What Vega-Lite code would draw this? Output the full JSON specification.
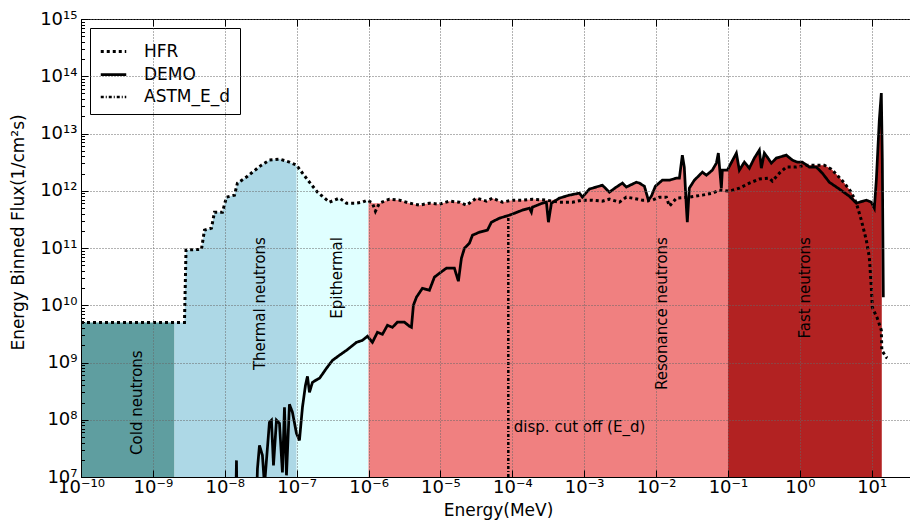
{
  "$schema": "https://vega.github.io/schema/vega-lite/v6.json",
  "width": 834,
  "height": 458,
  "autosize": "none",
  "padding": {"left": 81, "top": 19, "right": 0, "bottom": 46},
  "background": "white",
  "config": {
    "font": "DejaVu Sans",
    "view": {"stroke": "black", "strokeWidth": 1},
    "text": {"font": "DejaVu Sans"}
  },
  "datasets": {
    "fill": [
      {"region": "Cold", "e": 1e-10, "f": 5e9},
      {"region": "Cold", "e": 2e-9, "f": 5e9},
      {"region": "Thermal", "e": 2e-9, "f": 5e9},
      {"region": "Thermal", "e": 2.75e-9, "f": 5e9},
      {"region": "Thermal", "e": 2.89e-9, "f": 9.2e10},
      {"region": "Thermal", "e": 4.74e-9, "f": 9.5e10},
      {"region": "Thermal", "e": 5.22e-9, "f": 2.05e11},
      {"region": "Thermal", "e": 6.53e-9, "f": 2.22e11},
      {"region": "Thermal", "e": 7.19e-9, "f": 4.23e11},
      {"region": "Thermal", "e": 9.29e-9, "f": 4.23e11},
      {"region": "Thermal", "e": 1.056e-8, "f": 7.73e11},
      {"region": "Thermal", "e": 1.365e-8, "f": 8.38e11},
      {"region": "Thermal", "e": 1.5e-8, "f": 1.36e12},
      {"region": "Thermal", "e": 2e-8, "f": 1.73e12},
      {"region": "Thermal", "e": 2.43e-8, "f": 2.11e12},
      {"region": "Thermal", "e": 3.24e-8, "f": 2.8e12},
      {"region": "Thermal", "e": 4.18e-8, "f": 3.43e12},
      {"region": "Thermal", "e": 5.77e-8, "f": 3.57e12},
      {"region": "Thermal", "e": 7.94e-8, "f": 3.16e12},
      {"region": "Thermal", "e": 1e-7, "f": 2.78e12},
      {"region": "Epithermal", "e": 1e-7, "f": 2.78e12},
      {"region": "Epithermal", "e": 1.204e-7, "f": 2.03e12},
      {"region": "Epithermal", "e": 1.507e-7, "f": 1.41e12},
      {"region": "Epithermal", "e": 1.947e-7, "f": 9.45e11},
      {"region": "Epithermal", "e": 2.86e-7, "f": 6.32e11},
      {"region": "Epithermal", "e": 3.94e-7, "f": 7.43e11},
      {"region": "Epithermal", "e": 4.93e-7, "f": 6.07e11},
      {"region": "Epithermal", "e": 6.79e-7, "f": 6.07e11},
      {"region": "Epithermal", "e": 8.23e-7, "f": 6.32e11},
      {"region": "Epithermal", "e": 1e-6, "f": 6.85e11},
      {"region": "Resonance", "e": 1e-6, "f": 6.85e11},
      {"region": "Resonance", "e": 1.133e-6, "f": 6.07e11},
      {"region": "Resonance", "e": 1.418e-6, "f": 6.07e11},
      {"region": "Resonance", "e": 1.953e-6, "f": 7.13e11},
      {"region": "Resonance", "e": 2.69e-6, "f": 6.85e11},
      {"region": "Resonance", "e": 3.71e-6, "f": 6.07e11},
      {"region": "Resonance", "e": 5.1e-6, "f": 5.6e11},
      {"region": "Resonance", "e": 7.03e-6, "f": 6.07e11},
      {"region": "Resonance", "e": 9.68e-6, "f": 5.83e11},
      {"region": "Resonance", "e": 1.334e-5, "f": 6.58e11},
      {"region": "Resonance", "e": 1.838e-5, "f": 6.32e11},
      {"region": "Resonance", "e": 2.3e-5, "f": 5.6e11},
      {"region": "Resonance", "e": 3.17e-5, "f": 7.43e11},
      {"region": "Resonance", "e": 4.36e-5, "f": 6.58e11},
      {"region": "Resonance", "e": 5.29e-5, "f": 7.43e11},
      {"region": "Resonance", "e": 7.28e-5, "f": 6.32e11},
      {"region": "Resonance", "e": 1.003e-4, "f": 6.85e11},
      {"region": "Resonance", "e": 1.382e-4, "f": 6.85e11},
      {"region": "Resonance", "e": 1.904e-4, "f": 7.13e11},
      {"region": "Resonance", "e": 2.98e-4, "f": 6.85e11},
      {"region": "Resonance", "e": 3.5e-4, "f": 6.85e11},
      {"region": "Resonance", "e": 4.52e-4, "f": 7.43e11},
      {"region": "Resonance", "e": 6.22e-4, "f": 8.38e11},
      {"region": "Resonance", "e": 8.58e-4, "f": 9.08e11},
      {"region": "Resonance", "e": 9.44e-4, "f": 7.73e11},
      {"region": "Resonance", "e": 1.181e-3, "f": 1.07e12},
      {"region": "Resonance", "e": 1.79e-3, "f": 1.25e12},
      {"region": "Resonance", "e": 2.24e-3, "f": 9.45e11},
      {"region": "Resonance", "e": 2.8e-3, "f": 1.16e12},
      {"region": "Resonance", "e": 3.4e-3, "f": 1.36e12},
      {"region": "Resonance", "e": 3.86e-3, "f": 1.16e12},
      {"region": "Resonance", "e": 5.32e-3, "f": 1.41e12},
      {"region": "Resonance", "e": 5.86e-3, "f": 1.36e12},
      {"region": "Resonance", "e": 6.88e-3, "f": 1.2e12},
      {"region": "Resonance", "e": 7.81e-3, "f": 6.85e11},
      {"region": "Resonance", "e": 8.61e-3, "f": 8.05e11},
      {"region": "Resonance", "e": 9.78e-3, "f": 1.2e12},
      {"region": "Resonance", "e": 1.224e-2, "f": 1.53e12},
      {"region": "Resonance", "e": 1.531e-2, "f": 1.53e12},
      {"region": "Resonance", "e": 1.915e-2, "f": 1.66e12},
      {"region": "Resonance", "e": 2.11e-2, "f": 1.66e12},
      {"region": "Resonance", "e": 2.32e-2, "f": 4.19e12},
      {"region": "Resonance", "e": 2.47e-2, "f": 2.59e12},
      {"region": "Resonance", "e": 2.64e-2, "f": 7.73e11},
      {"region": "Resonance", "e": 2.72e-2, "f": 7.73e11},
      {"region": "Resonance", "e": 2.9e-2, "f": 1.11e12},
      {"region": "Resonance", "e": 3.41e-2, "f": 1.53e12},
      {"region": "Resonance", "e": 4.41e-2, "f": 2.11e12},
      {"region": "Resonance", "e": 5.01e-2, "f": 1.87e12},
      {"region": "Resonance", "e": 6.07e-2, "f": 2.29e12},
      {"region": "Resonance", "e": 6.9e-2, "f": 3.04e12},
      {"region": "Resonance", "e": 7.35e-2, "f": 4.54e12},
      {"region": "Resonance", "e": 8.09e-2, "f": 1.1e12},
      {"region": "Resonance", "e": 8.36e-2, "f": 2.29e12},
      {"region": "Resonance", "e": 9.81e-2, "f": 2.29e12},
      {"region": "Resonance", "e": 0.1, "f": 2.4e12},
      {"region": "Fast", "e": 0.1, "f": 2.4e12},
      {"region": "Fast", "e": 0.1309, "f": 4.54e12},
      {"region": "Fast", "e": 0.1441, "f": 2.29e12},
      {"region": "Fast", "e": 0.169, "f": 3.16e12},
      {"region": "Fast", "e": 0.1984, "f": 2.48e12},
      {"region": "Fast", "e": 0.2329, "f": 3.72e12},
      {"region": "Fast", "e": 0.2734, "f": 5.13e12},
      {"region": "Fast", "e": 0.2914, "f": 2.48e12},
      {"region": "Fast", "e": 0.3208, "f": 4.54e12},
      {"region": "Fast", "e": 0.3532, "f": 3.86e12},
      {"region": "Fast", "e": 0.4015, "f": 3.04e12},
      {"region": "Fast", "e": 0.4712, "f": 3.72e12},
      {"region": "Fast", "e": 0.649, "f": 4.19e12},
      {"region": "Fast", "e": 0.786, "f": 3.43e12},
      {"region": "Fast", "e": 0.923, "f": 3.16e12},
      {"region": "Fast", "e": 1.083, "f": 3.16e12},
      {"region": "Fast", "e": 1.231, "f": 2.8e12},
      {"region": "Fast", "e": 1.696, "f": 2.8e12},
      {"region": "Fast", "e": 2.19, "f": 2.8e12},
      {"region": "Fast", "e": 2.74, "f": 2.39e12},
      {"region": "Fast", "e": 3.32, "f": 1.87e12},
      {"region": "Fast", "e": 4.16, "f": 1.36e12},
      {"region": "Fast", "e": 5.2, "f": 9.45e11},
      {"region": "Fast", "e": 6.11, "f": 6.07e11},
      {"region": "Fast", "e": 8.41, "f": 6.85e11},
      {"region": "Fast", "e": 9.87, "f": 6.32e11},
      {"region": "Fast", "e": 10.87, "f": 4.97e11},
      {"region": "Fast", "e": 11.59, "f": 1.53e12},
      {"region": "Fast", "e": 12.75, "f": 1.71e13},
      {"region": "Fast", "e": 13.6, "f": 5.08e13},
      {"region": "Fast", "e": 13.8, "f": 1.35e13}
    ],
    "lines": [
      {"series": "HFR", "e": 1e-10, "f": 5e9},
      {"series": "HFR", "e": 2.75e-9, "f": 5e9},
      {"series": "HFR", "e": 2.89e-9, "f": 9.2e10},
      {"series": "HFR", "e": 4.74e-9, "f": 9.5e10},
      {"series": "HFR", "e": 5.22e-9, "f": 2.05e11},
      {"series": "HFR", "e": 6.53e-9, "f": 2.22e11},
      {"series": "HFR", "e": 7.19e-9, "f": 4.23e11},
      {"series": "HFR", "e": 9.29e-9, "f": 4.23e11},
      {"series": "HFR", "e": 1.056e-8, "f": 7.73e11},
      {"series": "HFR", "e": 1.365e-8, "f": 8.38e11},
      {"series": "HFR", "e": 1.5e-8, "f": 1.36e12},
      {"series": "HFR", "e": 2e-8, "f": 1.73e12},
      {"series": "HFR", "e": 2.43e-8, "f": 2.11e12},
      {"series": "HFR", "e": 3.24e-8, "f": 2.8e12},
      {"series": "HFR", "e": 4.18e-8, "f": 3.43e12},
      {"series": "HFR", "e": 5.77e-8, "f": 3.57e12},
      {"series": "HFR", "e": 7.94e-8, "f": 3.16e12},
      {"series": "HFR", "e": 9.94e-8, "f": 2.8e12},
      {"series": "HFR", "e": 1.204e-7, "f": 2.03e12},
      {"series": "HFR", "e": 1.507e-7, "f": 1.41e12},
      {"series": "HFR", "e": 1.947e-7, "f": 9.45e11},
      {"series": "HFR", "e": 2.86e-7, "f": 6.32e11},
      {"series": "HFR", "e": 3.94e-7, "f": 7.43e11},
      {"series": "HFR", "e": 4.93e-7, "f": 6.07e11},
      {"series": "HFR", "e": 6.79e-7, "f": 6.07e11},
      {"series": "HFR", "e": 8.23e-7, "f": 6.32e11},
      {"series": "HFR", "e": 9.65e-7, "f": 6.85e11},
      {"series": "HFR", "e": 1.133e-6, "f": 6.07e11},
      {"series": "HFR", "e": 1.247e-6, "f": 4.4e11},
      {"series": "HFR", "e": 1.418e-6, "f": 6.07e11},
      {"series": "HFR", "e": 1.953e-6, "f": 7.13e11},
      {"series": "HFR", "e": 2.69e-6, "f": 6.85e11},
      {"series": "HFR", "e": 3.71e-6, "f": 6.07e11},
      {"series": "HFR", "e": 5.1e-6, "f": 5.6e11},
      {"series": "HFR", "e": 7.03e-6, "f": 6.07e11},
      {"series": "HFR", "e": 9.68e-6, "f": 5.83e11},
      {"series": "HFR", "e": 1.334e-5, "f": 6.58e11},
      {"series": "HFR", "e": 1.838e-5, "f": 6.32e11},
      {"series": "HFR", "e": 2.3e-5, "f": 5.6e11},
      {"series": "HFR", "e": 3.17e-5, "f": 7.43e11},
      {"series": "HFR", "e": 4.36e-5, "f": 6.58e11},
      {"series": "HFR", "e": 5.29e-5, "f": 7.43e11},
      {"series": "HFR", "e": 7.28e-5, "f": 6.32e11},
      {"series": "HFR", "e": 1.003e-4, "f": 6.85e11},
      {"series": "HFR", "e": 1.382e-4, "f": 6.85e11},
      {"series": "HFR", "e": 1.904e-4, "f": 7.13e11},
      {"series": "HFR", "e": 2.98e-4, "f": 6.85e11},
      {"series": "HFR", "e": 4.52e-4, "f": 6.32e11},
      {"series": "HFR", "e": 6.85e-4, "f": 6.32e11},
      {"series": "HFR", "e": 9.44e-4, "f": 6.85e11},
      {"series": "HFR", "e": 1.3e-3, "f": 6.85e11},
      {"series": "HFR", "e": 1.79e-3, "f": 6.58e11},
      {"series": "HFR", "e": 2.24e-3, "f": 7.13e11},
      {"series": "HFR", "e": 3.09e-3, "f": 6.32e11},
      {"series": "HFR", "e": 3.86e-3, "f": 7.73e11},
      {"series": "HFR", "e": 4.68e-3, "f": 7.43e11},
      {"series": "HFR", "e": 6.45e-3, "f": 6.85e11},
      {"series": "HFR", "e": 8.88e-3, "f": 6.85e11},
      {"series": "HFR", "e": 1.111e-2, "f": 7.73e11},
      {"series": "HFR", "e": 1.391e-2, "f": 7.73e11},
      {"series": "HFR", "e": 1.531e-2, "f": 5.38e11},
      {"series": "HFR", "e": 1.915e-2, "f": 7.43e11},
      {"series": "HFR", "e": 2.9e-2, "f": 7.73e11},
      {"series": "HFR", "e": 4.41e-2, "f": 8.38e11},
      {"series": "HFR", "e": 6.07e-2, "f": 9.08e11},
      {"series": "HFR", "e": 7.59e-2, "f": 1.02e12},
      {"series": "HFR", "e": 0.1046, "f": 9.84e11},
      {"series": "HFR", "e": 0.1441, "f": 1.11e12},
      {"series": "HFR", "e": 0.1984, "f": 1.36e12},
      {"series": "HFR", "e": 0.2734, "f": 1.6e12},
      {"series": "HFR", "e": 0.3765, "f": 1.66e12},
      {"series": "HFR", "e": 0.4145, "f": 1.47e12},
      {"series": "HFR", "e": 0.5187, "f": 2.03e12},
      {"series": "HFR", "e": 0.649, "f": 2.59e12},
      {"series": "HFR", "e": 0.894, "f": 2.59e12},
      {"series": "HFR", "e": 1.231, "f": 2.8e12},
      {"series": "HFR", "e": 1.696, "f": 2.8e12},
      {"series": "HFR", "e": 2.19, "f": 2.8e12},
      {"series": "HFR", "e": 2.74, "f": 2.39e12},
      {"series": "HFR", "e": 3.32, "f": 1.87e12},
      {"series": "HFR", "e": 4.16, "f": 1.36e12},
      {"series": "HFR", "e": 5.2, "f": 9.45e11},
      {"series": "HFR", "e": 6.11, "f": 6.07e11},
      {"series": "HFR", "e": 7.17, "f": 3.06e11},
      {"series": "HFR", "e": 8.41, "f": 1.37e11},
      {"series": "HFR", "e": 9.26, "f": 6.9e10},
      {"series": "HFR", "e": 9.87, "f": 2.07e10},
      {"series": "HFR", "e": 10.19, "f": 9.23e9},
      {"series": "HFR", "e": 11.96, "f": 5.93e9},
      {"series": "HFR", "e": 13.6, "f": 3.66e9},
      {"series": "HFR", "e": 13.82, "f": 1.63e9},
      {"series": "HFR", "e": 15.96, "f": 1.23e9},
      {"series": "HFR", "e": 16.5, "f": 1.2e9},
      {"series": "DEMO", "e": 1.4e-8, "f": 1e6},
      {"series": "DEMO", "e": 1.455e-8, "f": 1.95e7},
      {"series": "DEMO", "e": 1.5e-8, "f": 1e6},
      {"series": "DEMO", "e": 2.67e-8, "f": 1e6},
      {"series": "DEMO", "e": 2.85e-8, "f": 1.41e7},
      {"series": "DEMO", "e": 3.04e-8, "f": 3.57e7},
      {"series": "DEMO", "e": 3.34e-8, "f": 2.39e7},
      {"series": "DEMO", "e": 3.57e-8, "f": 7.1e6},
      {"series": "DEMO", "e": 4.18e-8, "f": 9.0e7},
      {"series": "DEMO", "e": 4.46e-8, "f": 9.8e7},
      {"series": "DEMO", "e": 4.76e-8, "f": 1.6e7},
      {"series": "DEMO", "e": 5.24e-8, "f": 9.8e7},
      {"series": "DEMO", "e": 5.77e-8, "f": 8.65e7},
      {"series": "DEMO", "e": 6.34e-8, "f": 1.2e7},
      {"series": "DEMO", "e": 6.77e-8, "f": 1.65e8},
      {"series": "DEMO", "e": 7.22e-8, "f": 1.07e7},
      {"series": "DEMO", "e": 7.94e-8, "f": 1.86e8},
      {"series": "DEMO", "e": 8.74e-8, "f": 1.35e8},
      {"series": "DEMO", "e": 9.94e-8, "f": 5.78e7},
      {"series": "DEMO", "e": 1.094e-7, "f": 4.37e7},
      {"series": "DEMO", "e": 1.204e-7, "f": 1.65e8},
      {"series": "DEMO", "e": 1.326e-7, "f": 3.99e8},
      {"series": "DEMO", "e": 1.414e-7, "f": 5.74e8},
      {"series": "DEMO", "e": 1.507e-7, "f": 3.01e8},
      {"series": "DEMO", "e": 1.659e-7, "f": 4.51e8},
      {"series": "DEMO", "e": 1.947e-7, "f": 5.08e8},
      {"series": "DEMO", "e": 2.08e-7, "f": 5.3e8},
      {"series": "DEMO", "e": 2.6e-7, "f": 7.92e8},
      {"series": "DEMO", "e": 3.15e-7, "f": 1.09e9},
      {"series": "DEMO", "e": 3.94e-7, "f": 1.34e9},
      {"series": "DEMO", "e": 4.93e-7, "f": 1.63e9},
      {"series": "DEMO", "e": 6.79e-7, "f": 2.25e9},
      {"series": "DEMO", "e": 8.23e-7, "f": 2.44e9},
      {"series": "DEMO", "e": 9.65e-7, "f": 2.87e9},
      {"series": "DEMO", "e": 1.133e-6, "f": 2.25e9},
      {"series": "DEMO", "e": 1.33e-6, "f": 3.37e9},
      {"series": "DEMO", "e": 1.561e-6, "f": 3.11e9},
      {"series": "DEMO", "e": 1.832e-6, "f": 4.47e9},
      {"series": "DEMO", "e": 2.15e-6, "f": 4.12e9},
      {"series": "DEMO", "e": 2.52e-6, "f": 5.05e9},
      {"series": "DEMO", "e": 3.16e-6, "f": 5.05e9},
      {"series": "DEMO", "e": 3.71e-6, "f": 4.3e9},
      {"series": "DEMO", "e": 3.95e-6, "f": 4.12e9},
      {"series": "DEMO", "e": 4.21e-6, "f": 1.0e10},
      {"series": "DEMO", "e": 4.64e-6, "f": 1.38e10},
      {"series": "DEMO", "e": 5.62e-6, "f": 1.98e10},
      {"series": "DEMO", "e": 7.03e-6, "f": 1.83e10},
      {"series": "DEMO", "e": 8.25e-6, "f": 3.09e10},
      {"series": "DEMO", "e": 9.68e-6, "f": 3.62e10},
      {"series": "DEMO", "e": 1.212e-5, "f": 4.44e10},
      {"series": "DEMO", "e": 1.565e-5, "f": 4.44e10},
      {"series": "DEMO", "e": 1.779e-5, "f": 2.63e10},
      {"series": "DEMO", "e": 1.959e-5, "f": 6.63e10},
      {"series": "DEMO", "e": 2.16e-5, "f": 9.93e10},
      {"series": "DEMO", "e": 2.53e-5, "f": 1.21e11},
      {"series": "DEMO", "e": 2.79e-5, "f": 1.67e11},
      {"series": "DEMO", "e": 3.49e-5, "f": 1.89e11},
      {"series": "DEMO", "e": 4.51e-5, "f": 2.05e11},
      {"series": "DEMO", "e": 5.12e-5, "f": 2.82e11},
      {"series": "DEMO", "e": 6.62e-5, "f": 3.32e11},
      {"series": "DEMO", "e": 9.11e-5, "f": 3.74e11},
      {"series": "DEMO", "e": 1.382e-4, "f": 4.58e11},
      {"series": "DEMO", "e": 1.729e-4, "f": 4.97e11},
      {"series": "DEMO", "e": 1.843e-4, "f": 4.23e11},
      {"series": "DEMO", "e": 1.904e-4, "f": 5.17e11},
      {"series": "DEMO", "e": 2.62e-4, "f": 6.07e11},
      {"series": "DEMO", "e": 2.98e-4, "f": 6.32e11},
      {"series": "DEMO", "e": 3.18e-4, "f": 2.82e11},
      {"series": "DEMO", "e": 3.5e-4, "f": 6.07e11},
      {"series": "DEMO", "e": 4.52e-4, "f": 7.43e11},
      {"series": "DEMO", "e": 6.22e-4, "f": 8.38e11},
      {"series": "DEMO", "e": 8.58e-4, "f": 9.08e11},
      {"series": "DEMO", "e": 9.44e-4, "f": 7.73e11},
      {"series": "DEMO", "e": 1.181e-3, "f": 1.07e12},
      {"series": "DEMO", "e": 1.79e-3, "f": 1.25e12},
      {"series": "DEMO", "e": 2.24e-3, "f": 9.45e11},
      {"series": "DEMO", "e": 2.8e-3, "f": 1.16e12},
      {"series": "DEMO", "e": 3.4e-3, "f": 1.36e12},
      {"series": "DEMO", "e": 3.86e-3, "f": 1.16e12},
      {"series": "DEMO", "e": 5.32e-3, "f": 1.41e12},
      {"series": "DEMO", "e": 5.86e-3, "f": 1.36e12},
      {"series": "DEMO", "e": 6.88e-3, "f": 1.2e12},
      {"series": "DEMO", "e": 7.81e-3, "f": 6.85e11},
      {"series": "DEMO", "e": 8.61e-3, "f": 8.05e11},
      {"series": "DEMO", "e": 9.78e-3, "f": 1.2e12},
      {"series": "DEMO", "e": 1.224e-2, "f": 1.53e12},
      {"series": "DEMO", "e": 1.531e-2, "f": 1.53e12},
      {"series": "DEMO", "e": 1.915e-2, "f": 1.66e12},
      {"series": "DEMO", "e": 2.11e-2, "f": 1.66e12},
      {"series": "DEMO", "e": 2.32e-2, "f": 4.19e12},
      {"series": "DEMO", "e": 2.47e-2, "f": 2.59e12},
      {"series": "DEMO", "e": 2.64e-2, "f": 5.17e11},
      {"series": "DEMO", "e": 2.72e-2, "f": 2.82e11},
      {"series": "DEMO", "e": 2.9e-2, "f": 1.11e12},
      {"series": "DEMO", "e": 3.41e-2, "f": 1.53e12},
      {"series": "DEMO", "e": 4.41e-2, "f": 2.11e12},
      {"series": "DEMO", "e": 5.01e-2, "f": 1.87e12},
      {"series": "DEMO", "e": 6.07e-2, "f": 2.29e12},
      {"series": "DEMO", "e": 6.9e-2, "f": 3.04e12},
      {"series": "DEMO", "e": 7.35e-2, "f": 4.54e12},
      {"series": "DEMO", "e": 8.09e-2, "f": 1.1e12},
      {"series": "DEMO", "e": 8.36e-2, "f": 2.29e12},
      {"series": "DEMO", "e": 9.81e-2, "f": 2.29e12},
      {"series": "DEMO", "e": 0.1309, "f": 4.54e12},
      {"series": "DEMO", "e": 0.1441, "f": 2.29e12},
      {"series": "DEMO", "e": 0.169, "f": 3.16e12},
      {"series": "DEMO", "e": 0.1984, "f": 2.48e12},
      {"series": "DEMO", "e": 0.2329, "f": 3.72e12},
      {"series": "DEMO", "e": 0.2734, "f": 5.13e12},
      {"series": "DEMO", "e": 0.2914, "f": 2.48e12},
      {"series": "DEMO", "e": 0.3208, "f": 4.54e12},
      {"series": "DEMO", "e": 0.3532, "f": 3.86e12},
      {"series": "DEMO", "e": 0.4015, "f": 3.04e12},
      {"series": "DEMO", "e": 0.4712, "f": 3.72e12},
      {"series": "DEMO", "e": 0.649, "f": 4.19e12},
      {"series": "DEMO", "e": 0.786, "f": 3.43e12},
      {"series": "DEMO", "e": 0.923, "f": 3.16e12},
      {"series": "DEMO", "e": 1.083, "f": 3.16e12},
      {"series": "DEMO", "e": 1.356, "f": 2.59e12},
      {"series": "DEMO", "e": 1.696, "f": 2.59e12},
      {"series": "DEMO", "e": 2.056, "f": 2.03e12},
      {"series": "DEMO", "e": 2.572, "f": 1.41e12},
      {"series": "DEMO", "e": 3.543, "f": 1.07e12},
      {"series": "DEMO", "e": 4.88, "f": 8.05e11},
      {"series": "DEMO", "e": 6.11, "f": 6.07e11},
      {"series": "DEMO", "e": 8.41, "f": 6.85e11},
      {"series": "DEMO", "e": 9.87, "f": 6.32e11},
      {"series": "DEMO", "e": 10.87, "f": 4.97e11},
      {"series": "DEMO", "e": 11.59, "f": 1.53e12},
      {"series": "DEMO", "e": 12.75, "f": 1.71e13},
      {"series": "DEMO", "e": 13.6, "f": 5.08e13},
      {"series": "DEMO", "e": 14.04, "f": 3.43e12},
      {"series": "DEMO", "e": 14.5, "f": 1.38e10},
      {"series": "ASTM_E_d", "e": 8.8e-5, "f": 1e7},
      {"series": "ASTM_E_d", "e": 8.8e-5, "f": 4.1e11}
    ],
    "vlabels": [
      {"t": "Cold neutrons", "e": 6.1e-10, "f": 1.63e9},
      {"t": "Thermal neutrons", "e": 3.14e-8, "f": 1.55e11},
      {"t": "Epithermal", "e": 3.63e-7, "f": 1.55e11},
      {"t": "Resonance neutrons", "e": 1.224e-2, "f": 1.55e11},
      {"t": "Fast neutrons", "e": 1.19, "f": 1.55e11}
    ],
    "hlabels": [
      {"t": "disp. cut off (E_d)", "e": 1.05e-4, "f": 7.4e7}
    ]
  },
  "layer": [
    {
      "data": {"name": "fill"},
      "mark": {"type": "area", "clip": true, "strokeWidth": 0},
      "encoding": {
        "x": {
          "field": "e", "type": "quantitative",
          "scale": {"type": "log", "domain": [1e-10, 40], "nice": false},
          "axis": {
            "orient": "bottom",
            "values": [1e-10, 1e-9, 1e-8, 1e-7, 1e-6, 1e-5, 1e-4, 1e-3, 1e-2, 1e-1, 1, 10],
            "labelExpr": "'10' + replace(replace(replace(replace(replace(replace(replace(replace(replace(replace(replace('' + round(log(datum.value)/LN10), regexp('-','g'), '⁻'), regexp('0','g'), '⁰'), regexp('1','g'), '¹'), regexp('2','g'), '²'), regexp('3','g'), '³'), regexp('4','g'), '⁴'), regexp('5','g'), '⁵'), regexp('6','g'), '⁶'), regexp('7','g'), '⁷'), regexp('8','g'), '⁸'), regexp('9','g'), '⁹')",
            "labelFontSize": 18,
            "labelColor": "black",
            "labelFlush": false,
            "labelOverlap": false,
            "labelPadding": 8,
            "tickSize": -7,
            "tickColor": "black",
            "domainColor": "black",
            "grid": true,
            "gridColor": "#666666",
            "gridDash": [1, 2],
            "gridWidth": 1,
            "zindex": 1,
            "title": "Energy(MeV)",
            "titleFontSize": 17,
            "titleFontWeight": "normal",
            "titleColor": "black",
            "titleBaseline": "middle",
            "titleY": 33
          }
        },
        "y": {
          "field": "f", "type": "quantitative",
          "scale": {"type": "log", "domain": [1e7, 1e15], "nice": false},
          "stack": null,
          "axis": {
            "orient": "left",
            "values": [1e7, 2e7, 3e7, 4e7, 5e7, 6e7, 7e7, 8e7, 9e7, 1e8, 2e8, 3e8, 4e8, 5e8, 6e8, 7e8, 8e8, 9e8, 1e9, 2e9, 3e9, 4e9, 5e9, 6e9, 7e9, 8e9, 9e9, 1e10, 2e10, 3e10, 4e10, 5e10, 6e10, 7e10, 8e10, 9e10, 1e11, 2e11, 3e11, 4e11, 5e11, 6e11, 7e11, 8e11, 9e11, 1e12, 2e12, 3e12, 4e12, 5e12, 6e12, 7e12, 8e12, 9e12, 1e13, 2e13, 3e13, 4e13, 5e13, 6e13, 7e13, 8e13, 9e13, 1e14, 2e14, 3e14, 4e14, 5e14, 6e14, 7e14, 8e14, 9e14, 1e15],
            "labelExpr": "abs(log(datum.value)/LN10 - round(log(datum.value)/LN10)) < 0.001 ? '10' + replace(replace(replace(replace(replace(replace(replace(replace(replace(replace(replace('' + round(log(datum.value)/LN10), regexp('-','g'), '⁻'), regexp('0','g'), '⁰'), regexp('1','g'), '¹'), regexp('2','g'), '²'), regexp('3','g'), '³'), regexp('4','g'), '⁴'), regexp('5','g'), '⁵'), regexp('6','g'), '⁶'), regexp('7','g'), '⁷'), regexp('8','g'), '⁸'), regexp('9','g'), '⁹') : ''",
            "labelFontSize": 18,
            "labelColor": "black",
            "labelOverlap": false,
            "labelFlush": false,
            "labelPadding": 11,
            "tickSize": {"condition": {"test": "abs(log(datum.value)/LN10 - round(log(datum.value)/LN10)) < 0.001", "value": -7}, "value": -3.5},
            "tickColor": "black",
            "domainColor": "black",
            "grid": true,
            "gridColor": "#666666",
            "gridDash": [1, 2],
            "gridWidth": 1,
            "gridOpacity": {"condition": {"test": "abs(log(datum.value)/LN10 - round(log(datum.value)/LN10)) < 0.001", "value": 1}, "value": 0},
            "zindex": 1,
            "title": "Energy Binned Flux(1/cm²s)",
            "titleFontSize": 17,
            "titleFontWeight": "normal",
            "titleColor": "black",
            "titleX": -63,
            "titleY": 213,
            "titleBaseline": "middle"
          }
        },
        "y2": {"datum": 1e7},
        "color": {
          "field": "region", "type": "nominal",
          "scale": {"domain": ["Cold", "Thermal", "Epithermal", "Resonance", "Fast"], "range": ["#5f9ea0", "#add8e6", "#e0ffff", "#f08080", "#b22222"]},
          "legend": null
        }
      }
    },
    {
      "data": {"name": "lines"},
      "mark": {"type": "line", "clip": true, "color": "black"},
      "encoding": {
        "x": {"field": "e", "type": "quantitative", "scale": {"type": "log", "domain": [1e-10, 40], "nice": false}, "axis": null},
        "y": {"field": "f", "type": "quantitative", "scale": {"type": "log", "domain": [1e7, 1e15], "nice": false}},
        "strokeDash": {
          "field": "series", "type": "nominal",
          "scale": {"domain": ["HFR", "DEMO", "ASTM_E_d"], "range": [[3, 3], [1, 0], [3, 2, 1, 2]]},
          "legend": {
            "title": null, "orient": "none", "legendX": 9, "legendY": 9,
            "symbolType": "stroke", "symbolSize": 650, "symbolStrokeColor": "black",
            "labelFontSize": 17, "labelColor": "black", "labelOffset": 16,
            "padding": 9, "rowPadding": 0, "strokeColor": "black", "fillColor": "white"
          }
        },
        "strokeWidth": {
          "field": "series", "type": "nominal",
          "scale": {"domain": ["HFR", "DEMO", "ASTM_E_d"], "range": [3, 2.5, 1.8]},
          "legend": {
            "title": null, "orient": "none", "legendX": 9, "legendY": 9,
            "symbolType": "stroke", "symbolSize": 650, "symbolStrokeColor": "black",
            "labelFontSize": 17, "labelColor": "black", "labelOffset": 16,
            "padding": 9, "rowPadding": 0, "strokeColor": "black", "fillColor": "white"
          }
        }
      }
    },
    {
      "data": {"name": "vlabels"},
      "mark": {"type": "text", "angle": 270, "align": "right", "baseline": "middle", "fontSize": 15, "color": "black"},
      "encoding": {
        "x": {
          "field": "e", "type": "quantitative",
          "scale": {"type": "log", "domain": [1e-10, 40], "nice": false},
          "axis": {
            "orient": "top",
            "values": [1e-10, 1e-9, 1e-8, 1e-7, 1e-6, 1e-5, 1e-4, 1e-3, 1e-2, 1e-1, 1, 10],
            "labels": false, "domain": false, "grid": false, "title": null,
            "tickSize": -7, "tickColor": "black", "zindex": 1
          }
        },
        "y": {"field": "f", "type": "quantitative", "scale": {"type": "log", "domain": [1e7, 1e15], "nice": false}},
        "text": {"field": "t"}
      }
    },
    {
      "data": {"name": "hlabels"},
      "mark": {"type": "text", "align": "left", "baseline": "middle", "fontSize": 15, "color": "black"},
      "encoding": {
        "x": {"field": "e", "type": "quantitative", "scale": {"type": "log", "domain": [1e-10, 40], "nice": false}, "axis": null},
        "y": {"field": "f", "type": "quantitative", "scale": {"type": "log", "domain": [1e7, 1e15], "nice": false}},
        "text": {"field": "t"}
      }
    }
  ],
  "resolve": {"axis": {"x": "independent"}}
}
